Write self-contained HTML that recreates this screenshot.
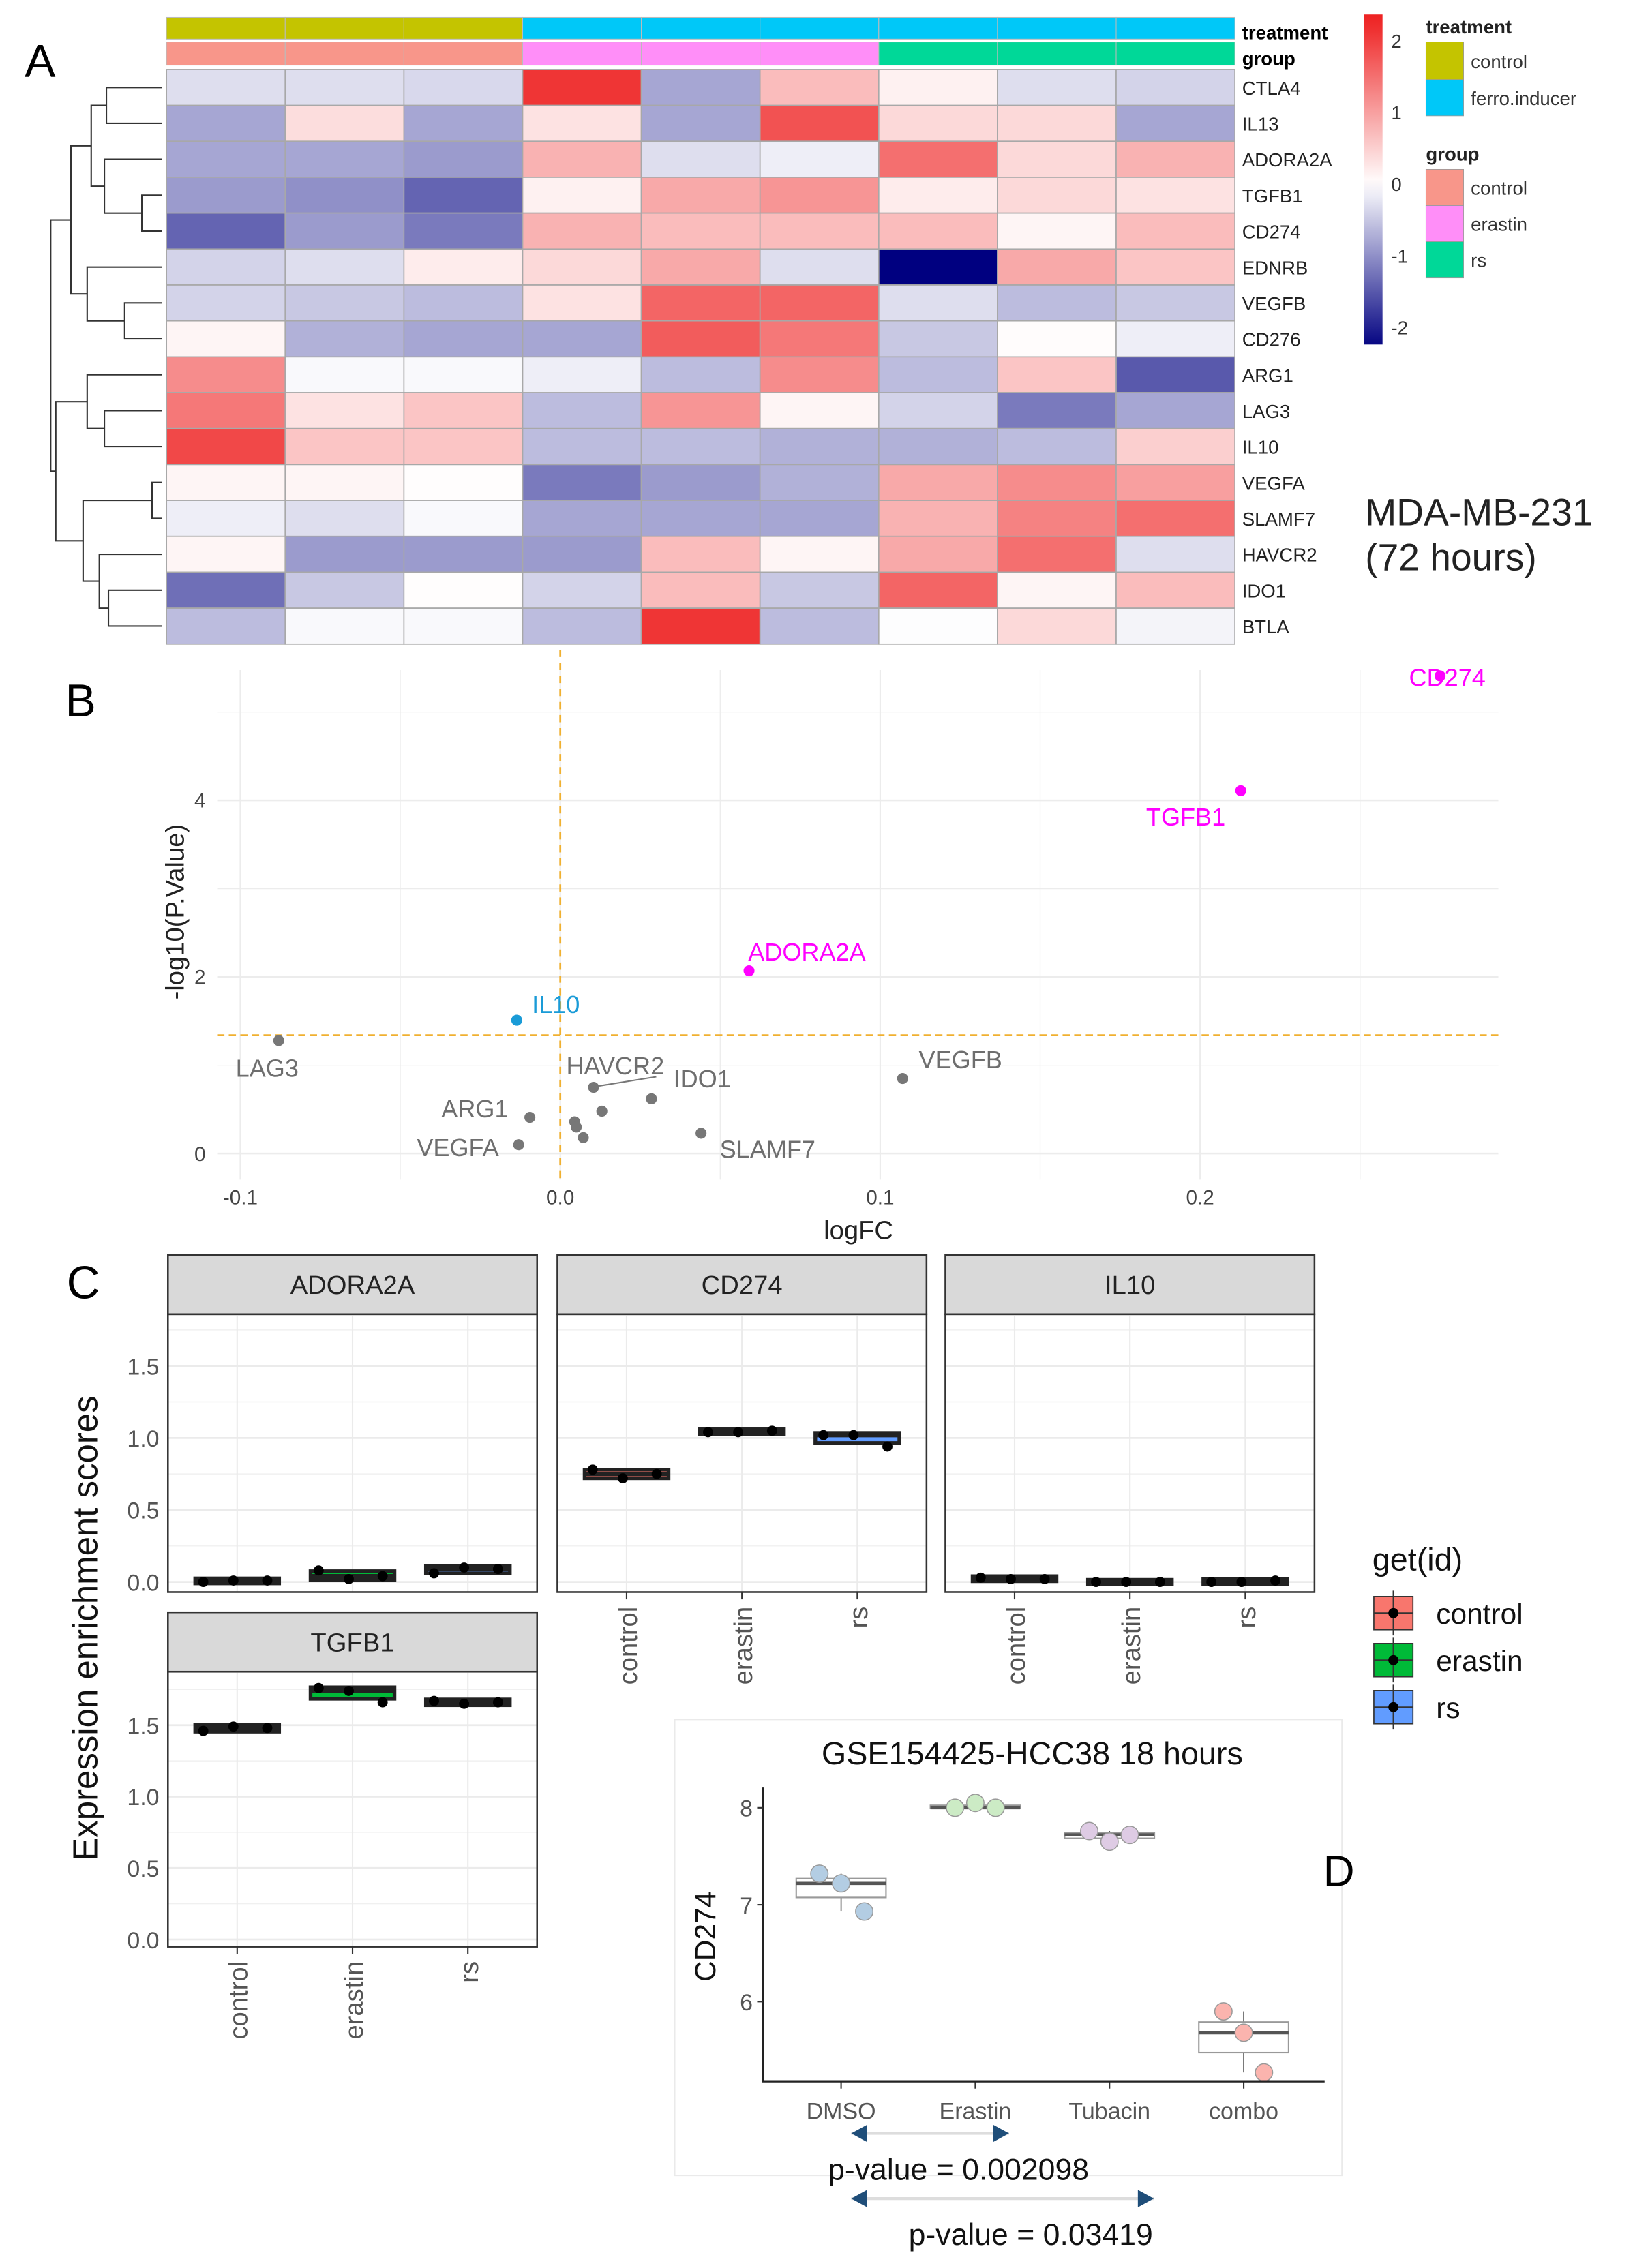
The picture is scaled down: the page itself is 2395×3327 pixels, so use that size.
<!DOCTYPE html>
<html><head><meta charset="utf-8">
<style>
html,body{margin:0;padding:0;background:#fff;}
svg{display:block;font-family:"Liberation Sans",sans-serif;}
</style></head>
<body>
<svg id="fig" width="2395" height="3327" viewBox="0 0 1128 1567" preserveAspectRatio="none" xmlns="http://www.w3.org/2000/svg"></svg>
<script>
// ===== Heatmap data =====
const genes = ["CTLA4","IL13","ADORA2A","TGFB1","CD274","EDNRB","VEGFB","CD276","ARG1","LAG3","IL10","VEGFA","SLAMF7","HAVCR2","IDO1","BTLA"];
const treatments = ["control","control","control","ferro.inducer","ferro.inducer","ferro.inducer","ferro.inducer","ferro.inducer","ferro.inducer"];
const groups = ["control","control","control","erastin","erastin","erastin","rs","rs","rs"];
const zCTLA4 = [-0.3,-0.3,-0.35,2.1,-0.8,0.7,0.15,-0.3,-0.4];
const zIL13 = [-0.8,0.35,-0.8,0.3,-0.8,1.8,0.4,0.4,-0.8];
const zADORA2A = [-0.8,-0.8,-0.9,0.8,-0.3,-0.15,1.5,0.4,0.8];
const zTGFB1 = [-0.9,-1.0,-1.4,0.15,0.9,1.1,0.2,0.4,0.3];
const zCD274 = [-1.4,-0.9,-1.2,0.8,0.7,0.7,0.7,0.1,0.7];
const zEDNRB = [-0.4,-0.3,0.2,0.4,0.9,-0.3,-2.3,0.9,0.6];
const zVEGFB = [-0.4,-0.5,-0.6,0.3,1.6,1.6,-0.3,-0.6,-0.5];
const zCD276 = [0.1,-0.7,-0.8,-0.8,1.7,1.4,-0.5,0.03,-0.15];
const zARG1 = [1.2,-0.05,-0.05,-0.15,-0.6,1.2,-0.6,0.6,-1.5];
const zLAG3 = [1.4,0.3,0.6,-0.6,1.1,0.1,-0.4,-1.2,-0.8];
const zIL10 = [1.9,0.6,0.6,-0.6,-0.6,-0.7,-0.7,-0.6,0.5];
const zVEGFA = [0.1,0.1,0.02,-1.2,-0.9,-0.7,0.9,1.2,1.0];
const zSLAMF7 = [-0.15,-0.3,-0.05,-0.8,-0.8,-0.8,0.8,1.3,1.5];
const zHAVCR2 = [0.1,-0.9,-0.9,-0.9,0.7,0.1,0.9,1.5,-0.3];
const zIDO1 = [-1.3,-0.5,0.02,-0.4,0.7,-0.5,1.6,0.1,0.7];
const zBTLA = [-0.6,-0.05,-0.05,-0.6,2.1,-0.6,-0.02,0.4,-0.1];
const zRows = [zCTLA4,zIL13,zADORA2A,zTGFB1,zCD274,zEDNRB,zVEGFB,zCD276,zARG1,zLAG3,zIL10,zVEGFA,zSLAMF7,zHAVCR2,zIDO1,zBTLA];
const colorbarTicks = [2,1,0,-1,-2];
const dendroMerges = [[0,1,0.55],[3,4,0.2],[2,17,0.57],[16,18,0.7],[6,7,0.37],[5,20,0.74],[19,21,0.9],[9,10,0.57],[8,23,0.74],[11,12,0.1],[14,15,0.53],[13,26,0.62],[25,27,0.78],[24,28,1.05],[22,29,1.1]];

// ===== Volcano data =====
const volGenes = ["CD274","TGFB1","ADORA2A","IL10","LAG3","VEGFB","HAVCR2","IDO1","g9","ARG1","g11","g12","g13","SLAMF7","VEGFA"];
const volLogFC = [0.275,0.2127,0.059,-0.0136,-0.088,0.107,0.0104,0.0285,0.013,-0.0095,0.0045,0.005,0.0072,0.044,-0.013];
const volNegLogP = [5.41,4.11,2.07,1.51,1.28,0.85,0.75,0.62,0.48,0.41,0.36,0.30,0.18,0.23,0.10];
const volXTicks = [-0.1,0.0,0.1,0.2];
const volXTickLabels = ["-0.1","0.0","0.1","0.2"];
const volYTicks = [0,2,4];
const volPThreshold = 1.34;

// ===== Panel C data =====
const cCats = ["control","erastin","rs"];
const cFacets = ["ADORA2A","CD274","IL10","TGFB1"];
const cPtsADORA2A = [[0.0,0.01,0.01],[0.08,0.02,0.04],[0.06,0.1,0.09]];
const cPtsCD274 = [[0.78,0.72,0.75],[1.04,1.04,1.05],[1.02,1.02,0.94]];
const cPtsIL10 = [[0.03,0.02,0.02],[0.0,0.0,0.0],[0.0,0.0,0.01]];
const cPtsTGFB1 = [[1.46,1.49,1.48],[1.76,1.74,1.66],[1.67,1.65,1.66]];
const cYTicks = [0,0.5,1,1.5];
const cYTickLabels = ["0.0","0.5","1.0","1.5"];

// ===== Panel D data =====
const dCats = ["DMSO","Erastin","Tubacin","combo"];
const dPts = [[7.32,7.22,6.93],[8.0,8.05,8.0],[7.76,7.65,7.72],[5.9,5.68,5.27]];
const dYTicks = [6,7,8];

const NS="http://www.w3.org/2000/svg";
const svg=document.getElementById('fig');
function mk(tag,attrs,parent){const e=document.createElementNS(NS,tag);for(const k in attrs)e.setAttribute(k,attrs[k]);(parent||svg).appendChild(e);return e;}
function txt(s,attrs,parent){const e=mk('text',attrs,parent);e.textContent=s;return e;}

// ---------- Panel A ----------
const hmX0=115,hmX1=853,hmY0=48,hmY1=445;
const cw=(hmX1-hmX0)/9, rh=(hmY1-hmY0)/16;
function hcol(v){
  const navy=[0,0,128],white=[255,255,255],red=[238,34,34];
  let t=Math.max(-1,Math.min(1,v/2.3));const a=t<0?navy:red;const f=Math.abs(t);
  return 'rgb('+white.map((w,i)=>Math.round(w+(a[i]-w)*f)).join(',')+')';
}
const tcol={"control":"#c4c400","ferro.inducer":"#00c8f8"};
const gcol={"control":"#f8968a","erastin":"#ff8ef8","rs":"#00d898"};
let g=mk('g',{});


for(let j=0;j<9;j++){
  let r=mk('rect',{x:hmX0+j*cw,y:12,width:cw,height:15,fill:tcol[treatments[j]],stroke:'#bbb','stroke-width':0.5},g);
  
  
  r=mk('rect',{x:hmX0+j*cw,y:29,width:cw,height:16,fill:gcol[groups[j]],stroke:'#bbb','stroke-width':0.5},g);
  
  
}
let t=txt('treatment',{x:858,y:27,'font-size':13,'font-weight':'bold'},g);


t=txt('group',{x:858,y:45,'font-size':13,'font-weight':'bold'},g);


for(let i=0;i<16;i++){
  for(let j=0;j<9;j++){
    let r=mk('rect',{x:hmX0+j*cw,y:hmY0+i*rh,width:cw,height:rh,fill:hcol(zRows[i][j]),stroke:'#a8a8a8','stroke-width':0.8},g);
    
    
  }
  let l=txt(genes[i],{x:858,y:hmY0+(i+0.5)*rh+5,'font-size':13,fill:'#222'},g);
  
  
}
const dg=mk('g',{stroke:'#333','stroke-width':1,fill:'none'});


const nodeY=[],nodeH=[];
for(let i=0;i<16;i++){nodeY[i]=hmY0+(i+0.5)*rh;nodeH[i]=0;}
const dx=h=>112-h*70;
dendroMerges.forEach((m,k)=>{
  const a=m[0],b=m[1],h=m[2],id=16+k;
  const xa=dx(nodeH[a]),xb=dx(nodeH[b]),xm=dx(h);
  let p=mk('path',{d:`M${xa},${nodeY[a]}H${xm}V${nodeY[b]}H${xb}`},dg);
  
  
  nodeY[id]=(nodeY[a]+nodeY[b])/2;nodeH[id]=h;
});
const defs=mk('defs',{});
const lg=mk('linearGradient',{id:'cb',x1:0,y1:0,x2:0,y2:1},defs);
for(let k=0;k<=20;k++){const v=2.36-(k/20)*(2.36+2.24);mk('stop',{offset:k/20,'stop-color':hcol(v)},lg);}
let cb=mk('rect',{x:942,y:10,width:13,height:228,fill:'url(#cb)'});


const cbY=v=>127-v*49.5;
colorbarTicks.forEach(v=>{let l=txt(String(v),{x:961,y:cbY(v)+5,'font-size':13,fill:'#333'});
  
  });
function legKey(x,y,w,h,c,label,name){
  let r=mk('rect',{x:x,y:y,width:w,height:h,fill:c,stroke:'#9a9a9a','stroke-width':0.4});
  
  
  let l=txt(label,{x:1016,y:y+h/2+5,'font-size':13,fill:'#333'});
  
  
}
t=txt('treatment',{x:985,y:23,'font-size':13,'font-weight':'bold',fill:'#222'});


legKey(985,29,26,26,tcol.control,'control','legend-treatment-control');
legKey(985,55,26,25,tcol['ferro.inducer'],'ferro.inducer','legend-treatment-ferro');
t=txt('group',{x:985,y:111,'font-size':13,'font-weight':'bold',fill:'#222'});


legKey(985,117,26,25,gcol.control,'control','legend-group-control');
legKey(985,142,26,25,gcol.erastin,'erastin','legend-group-erastin');
legKey(985,167,26,25,gcol.rs,'rs','legend-group-rs');
t=txt('MDA-MB-231',{x:943,y:363,'font-size':26,fill:'#222'});


t=txt('(72 hours)',{x:943,y:394,'font-size':26,fill:'#222'});


t=txt('A',{x:17,y:53,'font-size':32});



// ---------- Panel B (volcano) ----------
const vx=v=>387+v*2210, vy=v=>797-v*61;
const vg=mk('g',{});


[-0.1,-0.05,0,0.05,0.1,0.15,0.2,0.25].forEach((v,i)=>{let l=mk('line',{x1:vx(v),x2:vx(v),y1:463,y2:815,stroke:'#ececec','stroke-width':i%2?0.6:1},vg);
  
  });
[0,1,2,3,4,5].forEach((v,i)=>{let l=mk('line',{x1:150,x2:1035,y1:vy(v),y2:vy(v),stroke:'#ececec','stroke-width':i%2?0.6:1.2},vg);
  
  });
volXTicks.forEach((v,i)=>{let l=txt(volXTickLabels[i],{x:vx(v),y:832,'font-size':14,fill:'#444','text-anchor':'middle'},vg);
  
  });
volYTicks.forEach(v=>{let l=txt(String(v),{x:142,y:vy(v)+5,'font-size':14,fill:'#444','text-anchor':'end'},vg);
  
  });
let ln=mk('line',{x1:vx(0),x2:vx(0),y1:449,y2:815,stroke:'#f0b030','stroke-width':1.3,'stroke-dasharray':'5,4'},vg);


ln=mk('line',{x1:150,x2:1035,y1:vy(volPThreshold),y2:vy(volPThreshold),stroke:'#f0b030','stroke-width':1.3,'stroke-dasharray':'5,3'},vg);


const volColor=i=>volNegLogP[i]>volPThreshold?(volLogFC[i]>0?'#ff00ff':'#1a9bd7'):'#777';
const volLabelDx=[5,-38,40,27,-8,40,15,35,0,-38,0,0,0,46,-42];
const volLabelDy=[7,24,-7,-5,25,-7,-9,-8,0,0,0,0,0,17,8];
volLogFC.forEach((v,i)=>{
  let c=mk('circle',{cx:vx(v),cy:vy(volNegLogP[i]),r:3.8,fill:volColor(i)},vg);
  
  
  if(!volGenes[i].startsWith('g')){
    let l=txt(volGenes[i],{x:vx(v)+volLabelDx[i],y:vy(volNegLogP[i])+volLabelDy[i],'font-size':17,fill:volColor(i)==='#777'?'#6e6e6e':volColor(i),'text-anchor':'middle'},vg);
    
    
  }
});
ln=mk('line',{x1:vx(volLogFC[6])+4,y1:vy(volNegLogP[6])-1,x2:vx(0.03),y2:vy(0.87),stroke:'#777','stroke-width':1},vg);


t=txt('logFC',{x:593,y:856,'font-size':18,fill:'#222','text-anchor':'middle'},vg);


t=txt('-log10(P.Value)',{x:0,y:0,'font-size':18,fill:'#222','text-anchor':'middle',transform:'translate(127,630) rotate(-90)'},vg);


t=txt('B',{x:45,y:495,'font-size':32});



// ---------- Panel C ----------
const fillC={control:'#f8766d',erastin:'#00ba38',rs:'#619cff'};
const facetPos=[{x:116,y:867,pb:1100,y0:1093,k:99.5,pts:cPtsADORA2A},{x:385,y:867,pb:1100,y0:1093,k:99.5,pts:cPtsCD274},{x:653,y:867,pb:1100,y0:1093,k:99.5,pts:cPtsIL10},{x:116,y:1114,pb:1345,y0:1340,k:98.7,pts:cPtsTGFB1}];
const pw=255;
const jitter=[-9,-1,8];
facetPos.forEach((f,fi)=>{
  const fg=mk('g',{});
  
  
  const yv=v=>f.y0-v*f.k;
  const top=f.y+41;
  let r=mk('rect',{x:f.x,y:f.y,width:pw,height:41,fill:'#d9d9d9',stroke:'#333','stroke-width':1.2},fg);
  
  
  let l=txt(cFacets[fi],{x:f.x+pw/2,y:f.y+27,'font-size':18,fill:'#222','text-anchor':'middle'},fg);
  
  
  [0.25,0.75,1.25,1.75].forEach(v=>{let gl=mk('line',{x1:f.x,x2:f.x+pw,y1:yv(v),y2:yv(v),stroke:'#f0f0f0','stroke-width':0.7},fg);
    
    });
  cYTicks.forEach(v=>{let gl=mk('line',{x1:f.x,x2:f.x+pw,y1:yv(v),y2:yv(v),stroke:'#ebebeb','stroke-width':1.3},fg);
    
    });
  const cx=i=>f.x+(0.6+i)/3.2*pw;
  cCats.forEach((c,i)=>{let gl=mk('line',{x1:cx(i),x2:cx(i),y1:top,y2:f.pb,stroke:'#ebebeb','stroke-width':1},fg);
    
    });
  cCats.forEach((c,i)=>{
    const s=f.pts[i].slice().sort((a,b)=>a-b);
    const q1=(s[0]+s[1])/2,med=s[1],q3=(s[1]+s[2])/2;
    const bw=58;
    let b=mk('rect',{x:cx(i)-bw/2,y:yv(q3)-1.5,width:bw,height:Math.max(3,yv(q1)-yv(q3)+3),fill:fillC[c],stroke:'#222','stroke-width':2.5},fg);
    
    
    let m=mk('line',{x1:cx(i)-bw/2,x2:cx(i)+bw/2,y1:yv(med),y2:yv(med),stroke:'#222','stroke-width':3},fg);
    
    
    f.pts[i].forEach((v,k)=>{let p=mk('circle',{cx:cx(i)+jitter[k]*2.6,cy:yv(v),r:3.5,fill:'#000'},fg);
      
      });
  });
  r=mk('rect',{x:f.x,y:top,width:pw,height:f.pb-top,fill:'none',stroke:'#333','stroke-width':1.2},fg);
  
  
  if(fi===0||fi===3){
    cYTicks.forEach((v,k)=>{let tl=txt(cYTickLabels[k],{x:f.x-6,y:yv(v)+6,'font-size':16,fill:'#555','text-anchor':'end'},fg);
      
      });
  }
  if(fi!==0){
    cCats.forEach((c,i)=>{let tk=mk('line',{x1:cx(i),x2:cx(i),y1:f.pb,y2:f.pb+5,stroke:'#333'},fg);
      
      
      let tl=txt(c,{x:0,y:0,'font-size':18,fill:'#555','text-anchor':'end',transform:`translate(${cx(i)+7},${f.pb+10}) rotate(-90)`},fg);
      
      });
  }
});
t=txt('Expression enrichment scores',{x:0,y:0,'font-size':24,fill:'#111','text-anchor':'middle',transform:'translate(67,1125) rotate(-90)'});


t=txt('C',{x:46,y:897,'font-size':32});


t=txt('get(id)',{x:948,y:1085,'font-size':22,fill:'#111'});


cCats.forEach((c,i)=>{
  const ky=1103+i*32.5;
  let k=mk('rect',{x:949,y:ky,width:27,height:23,fill:fillC[c],stroke:'#333','stroke-width':0.8});
  
  
  mk('line',{x1:949,x2:976,y1:ky+11.5,y2:ky+11.5,stroke:'#333','stroke-width':1});
  mk('line',{x1:962.5,x2:962.5,y1:ky-4,y2:ky+27,stroke:'#333','stroke-width':1});
  mk('circle',{cx:962.5,cy:ky+11.5,r:3.5,fill:'#000'});
  let l=txt(c,{x:992,y:ky+19,'font-size':20,fill:'#111'});
  
  
});

// ---------- Panel D ----------
const dgp=mk('g',{});


let fr=mk('rect',{x:466,y:1188,width:461,height:315,fill:'none',stroke:'#eaeaea','stroke-width':1},dgp);


t=txt('GSE154425-HCC38 18 hours',{x:713,y:1219,'font-size':22,fill:'#111','text-anchor':'middle'},dgp);


const dy=v=>1249-(v-8)*67, dxp=i=>581+i*92.7;
const dCol=['#b3cde3','#ccebc5','#decbe4','#fbb4ae'];
const dOff=[[-15,0,16],[-14,0,14],[-14,0,14],[-14,0,14]];
dCats.forEach((c,i)=>{
  const s=dPts[i].slice().sort((a,b)=>a-b);
  const q1=(s[0]+s[1])/2,med=s[1],q3=(s[1]+s[2])/2;
  let w=mk('line',{x1:dxp(i),x2:dxp(i),y1:dy(s[2]),y2:dy(s[0]),stroke:'#555','stroke-width':0.8},dgp);
  
  
  let b=mk('rect',{x:dxp(i)-31,y:dy(q3),width:62,height:Math.max(2,dy(q1)-dy(q3)),fill:'#fff',stroke:'#999','stroke-width':1},dgp);
  
  
  let m=mk('line',{x1:dxp(i)-31,x2:dxp(i)+31,y1:dy(med),y2:dy(med),stroke:'#555','stroke-width':2.2},dgp);
  
  
  dPts[i].forEach((v,k)=>{let p=mk('circle',{cx:dxp(i)+dOff[i][k],cy:dy(v),r:6,fill:dCol[i],stroke:'#999','stroke-width':0.7},dgp);
    
    });
  let tk=mk('line',{x1:dxp(i),x2:dxp(i),y1:1438,y2:1443,stroke:'#333'},dgp);
  
  
  let tl=txt(c,{x:dxp(i),y:1464,'font-size':16,fill:'#555','text-anchor':'middle'},dgp);
  
  
});
let ax=mk('path',{d:'M527,1235V1438H915',fill:'none',stroke:'#222','stroke-width':1.5},dgp);


dYTicks.forEach(v=>{mk('line',{x1:523,x2:527,y1:dy(v),y2:dy(v),stroke:'#333'},dgp);
  let tl=txt(String(v),{x:520,y:dy(v)+6,'font-size':16,fill:'#555','text-anchor':'end'},dgp);
  
  });
t=txt('CD274',{x:0,y:0,'font-size':20,fill:'#111','text-anchor':'middle',transform:'translate(494,1338) rotate(-90)'},dgp);


function arrow(x1,x2,y,name){
  let l=mk('line',{x1:x1,x2:x2,y1:y,y2:y,stroke:'#ddd','stroke-width':2});
  
  
  mk('path',{d:`M${x1},${y}l11,-6v12z`,fill:'#1f4e79'});
  mk('path',{d:`M${x2},${y}l-11,-6v12z`,fill:'#1f4e79'});
}
arrow(588,697,1474,'dmso-erastin-comparison-arrow');
arrow(588,797,1519,'dmso-combo-comparison-arrow');
t=txt('p-value = 0.002098',{x:662,y:1506,'font-size':21,fill:'#111','text-anchor':'middle'});


t=txt('p-value = 0.03419',{x:712,y:1551,'font-size':21,fill:'#111','text-anchor':'middle'});


t=txt('D',{x:914,y:1303,'font-size':30});


</script>
</body></html>
